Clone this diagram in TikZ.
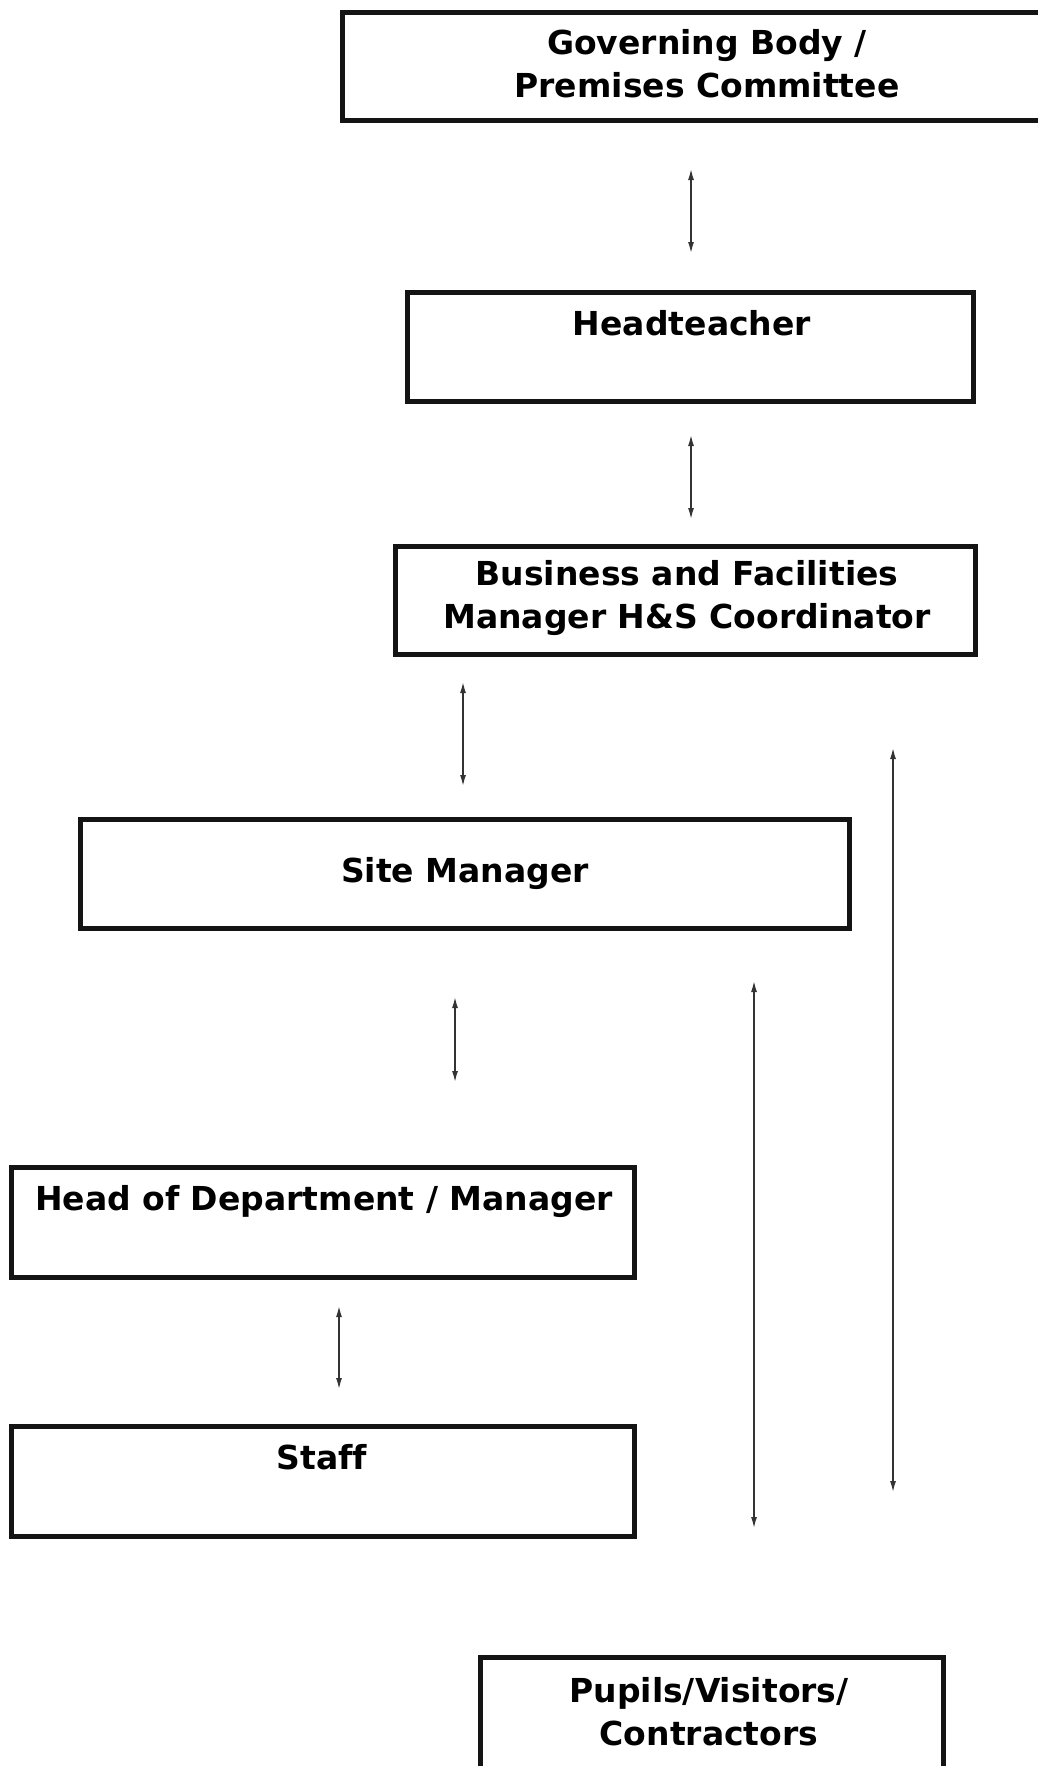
\documentclass[tikz,border=0pt]{standalone}
\usepackage{fontspec}
\setmainfont{DejaVu Sans}[Ligatures=CommonOff]
\usetikzlibrary{arrows.meta,calc}
\begin{document}
\begin{tikzpicture}[x=1pt,y=-1pt,
  box/.style={draw=black!92,line width=5pt,inner sep=0pt},
  txt/.style={font=\fontsize{33}{43}\selectfont\bfseries,align=center,inner sep=0pt},
  conn/.style={draw=black!80,line width=1.4pt,{Latex[length=11pt,width=6pt]}-{Latex[length=11pt,width=6pt]}}]
\fill[white] (0,0) rectangle (1038,1766);
\useasboundingbox (0,0) rectangle (1038,1766);
% boxes
\node[box,minimum width=735pt,minimum height=108pt] (gov) at (710,66.5) {};
\node[box,minimum width=566pt,minimum height=109pt] (head) at (690.5,347) {};
\node[box,minimum width=580pt,minimum height=108pt] (bfm) at (685.5,600.5) {};
\node[box,minimum width=769pt,minimum height=109pt] (site) at (465,874) {};
\node[box,minimum width=623pt,minimum height=110pt] (hod) at (323,1222.5) {};
\node[box,minimum width=623pt,minimum height=110pt] (staff) at (323,1481.5) {};
\node[box,minimum width=463pt,minimum height=141pt] (pupils) at (712,1727.5) {};
% texts
\node[txt] (govtxt) at (707,64) {Governing Body /\\Premises Committee};
\node[txt,anchor=base] (headtxt) at (692,335) {Headteacher};
\node[txt] (bfmtxt) at (687,598) {Business and Facilities\\Manager H\&S Coordinator};
\node[txt,anchor=base] (sitetxt) at (465,882) {Site Manager};
\node[txt,anchor=base] (hodtxt) at (324,1210) {Head of Department / Manager};
\node[txt,anchor=base] (stafftxt) at (322,1469) {Staff};
\node[txt] (pupilstxt) at (709,1712) {Pupils/Visitors/\\Contractors};
% connector ends
\coordinate (a1s) at (691,169); \coordinate (a1e) at (691,253);
\coordinate (a2s) at (691,435); \coordinate (a2e) at (691,519);
\coordinate (a3s) at (463,682); \coordinate (a3e) at (463,786);
\coordinate (a4s) at (455,997); \coordinate (a4e) at (455,1082);
\coordinate (a5s) at (339,1306); \coordinate (a5e) at (339,1389);
\coordinate (lms) at (754,981); \coordinate (lme) at (754,1528);
\coordinate (lrs) at (893,748); \coordinate (lre) at (893,1492);
\draw[conn] (a1s) -- (a1e);
\draw[conn] (a2s) -- (a2e);
\draw[conn] (a3s) -- (a3e);
\draw[conn] (a4s) -- (a4e);
\draw[conn] (a5s) -- (a5e);
\draw[conn] (lms) -- (lme);
\draw[conn] (lrs) -- (lre);
\end{tikzpicture}
\end{document}
